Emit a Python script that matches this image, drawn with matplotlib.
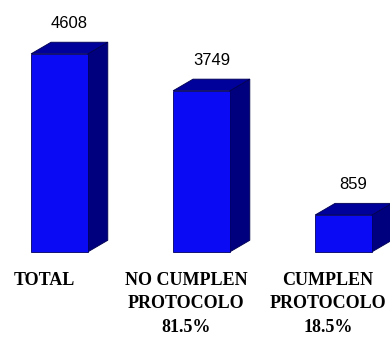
import matplotlib.pyplot as plt
from matplotlib.patches import Polygon

# data
categories = ["TOTAL", "NO CUMPLEN\nPROTOCOLO\n81.5%", "CUMPLEN\nPROTOCOLO\n18.5%"]
values = [4608, 3749, 859]
value_labels = ["4608", "3749", "859"]

front_color = "#0a0af5"
side_color = "#00007f"
top_color = "#00009a"

fig = plt.figure(figsize=(3.9, 3.4), dpi=100)
ax = fig.add_axes([0, 0, 1, 1])
ax.set_xlim(-0.419, 2.327)
ax.set_ylim(-2050, 5860)
ax.axis("off")

width = 0.40
dx = 0.14   # depth in x units
dy = 270    # depth in y units

xs = list(range(len(values)))
bars = ax.bar(xs, values, width=width, color=front_color, edgecolor="#000060",
              linewidth=0.6, zorder=3)

for bar, v, lab in zip(bars, values, value_labels):
    x0 = bar.get_x()
    x1 = x0 + bar.get_width()
    # right side face
    side = Polygon([(x1, 0), (x1 + dx, dy), (x1 + dx, v + dy), (x1, v)],
                   closed=True, facecolor=side_color, edgecolor="#000050",
                   linewidth=0.6, zorder=2)
    # top face
    top = Polygon([(x0, v), (x0 + dx, v + dy), (x1 + dx, v + dy), (x1, v)],
                  closed=True, facecolor=top_color, edgecolor="#000050",
                  linewidth=0.6, zorder=2)
    ax.add_patch(side)
    ax.add_patch(top)
    ax.annotate(lab, xy=(x0 + (width + dx) / 2, v + dy), xytext=(0, 8),
                textcoords="offset points", ha="center", va="bottom",
                fontsize=12, family="Liberation Sans", color="black")

for x, c in zip(xs, categories):
    ax.text(x - 0.11, -460, c, ha="center", va="top", fontsize=13,
            family="Liberation Serif", fontweight="bold",
            linespacing=1.5, color="black")

fig.savefig("out.png", dpi=100, facecolor="white")
